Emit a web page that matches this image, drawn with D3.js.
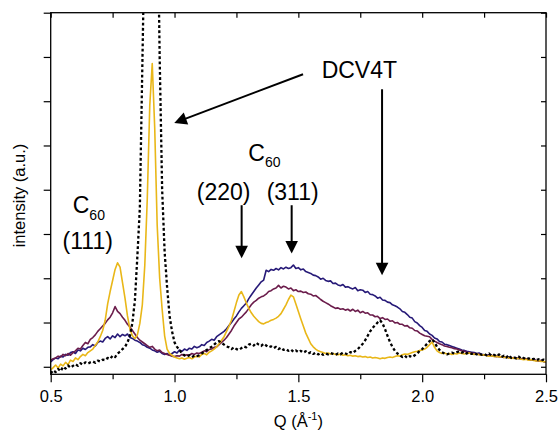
<!DOCTYPE html>
<html>
<head>
<meta charset="utf-8">
<script src="https://cdn.jsdelivr.net/npm/d3@7"></script>
<style>
  html, body { margin: 0; padding: 0; background: #fff; }
  svg { display: block; font-family: "Liberation Sans", Arial, sans-serif; }
</style>
</head>
<body>
<svg id="chart" width="559" height="432"></svg>
<script>
// Scattering vector grid (Å^-1), one sample every 0.01
const qGrid = d3.range(201).map(i => +(0.5 + i * 0.01).toFixed(2));

// Intensity profiles (a.u.), one value per grid point, rows of ten
const navyCurve = [
  0.11,0.16,0.20,0.18,0.24,0.22,0.28,0.26,0.32,0.34,
  0.30,0.38,0.36,0.42,0.39,0.44,0.45,0.50,0.47,0.55,
  0.58,0.56,0.64,0.68,0.63,0.70,0.66,0.74,0.68,0.73,
  0.70,0.74,0.66,0.64,0.60,0.58,0.55,0.50,0.48,0.44,
  0.42,0.38,0.36,0.33,0.35,0.30,0.28,0.30,0.26,0.30,
  0.34,0.31,0.38,0.35,0.40,0.37,0.42,0.40,0.46,0.43,
  0.45,0.50,0.48,0.55,0.58,0.62,0.60,0.68,0.72,0.76,
  0.80,0.86,0.93,1.00,1.08,1.15,1.24,1.32,1.38,1.44,
  1.54,1.62,1.70,1.78,1.85,1.92,1.96,2.18,2.15,2.20,
  2.18,2.22,2.19,2.24,2.21,2.25,2.22,2.24,2.30,2.22,
  2.24,2.19,2.21,2.15,2.13,2.11,2.07,2.06,2.03,1.98,
  2.00,1.95,1.93,1.94,1.88,1.89,1.85,1.83,1.86,1.80,
  1.81,1.78,1.76,1.79,1.72,1.74,1.73,1.68,1.70,1.64,
  1.63,1.60,1.55,1.57,1.51,1.50,1.46,1.45,1.40,1.38,
  1.35,1.31,1.25,1.23,1.18,1.12,1.10,1.02,0.99,0.93,
  0.89,0.82,0.80,0.74,0.71,0.65,0.63,0.57,0.56,0.51,
  0.50,0.48,0.46,0.44,0.42,0.40,0.38,0.37,0.35,0.34,
  0.33,0.32,0.30,0.31,0.28,0.27,0.26,0.27,0.25,0.24,
  0.25,0.23,0.22,0.23,0.21,0.22,0.20,0.21,0.19,0.19,
  0.18,0.17,0.18,0.16,0.15,0.16,0.14,0.13,0.14,0.12,
  0.11
];

const maroonCurve = [
  0.15,0.18,0.20,0.24,0.22,0.28,0.25,0.30,0.26,0.32,
  0.36,0.42,0.40,0.48,0.55,0.52,0.62,0.66,0.72,0.80,
  0.86,0.92,0.98,1.06,1.12,1.22,1.36,1.25,1.20,1.12,
  1.05,0.96,0.90,0.82,0.74,0.66,0.60,0.56,0.52,0.48,
  0.44,0.46,0.40,0.36,0.38,0.32,0.30,0.28,0.26,0.24,
  0.23,0.25,0.24,0.28,0.25,0.27,0.26,0.30,0.28,0.31,
  0.30,0.33,0.36,0.34,0.39,0.40,0.44,0.45,0.50,0.55,
  0.60,0.66,0.74,0.82,0.92,1.00,1.08,1.12,1.18,1.24,
  1.32,1.40,1.46,1.50,1.55,1.58,1.60,1.64,1.70,1.72,
  1.76,1.78,1.84,1.78,1.82,1.80,1.76,1.78,1.72,1.74,
  1.70,1.71,1.68,1.69,1.65,1.64,1.60,1.61,1.57,1.52,
  1.48,1.45,1.42,1.38,1.35,1.32,1.33,1.30,1.31,1.28,
  1.30,1.26,1.30,1.25,1.28,1.22,1.25,1.21,1.22,1.17,
  1.17,1.13,1.14,1.09,1.11,1.07,1.08,1.03,1.04,0.99,
  1.00,0.96,0.96,0.92,0.93,0.88,0.87,0.82,0.81,0.76,
  0.73,0.70,0.69,0.68,0.62,0.58,0.55,0.52,0.50,0.47,
  0.46,0.44,0.43,0.41,0.40,0.38,0.36,0.35,0.33,0.32,
  0.31,0.30,0.29,0.28,0.27,0.27,0.26,0.25,0.26,0.24,
  0.23,0.24,0.22,0.21,0.22,0.20,0.21,0.19,0.20,0.19,
  0.18,0.17,0.18,0.16,0.15,0.16,0.14,0.13,0.14,0.12,
  0.11
];

const goldCurve = [
  -0.07,-0.02,0.04,-0.03,0.06,0.02,0.10,0.05,0.15,0.12,
  0.20,0.16,0.23,0.28,0.25,0.32,0.36,0.40,0.48,0.56,
  0.68,0.82,1.05,1.42,1.70,1.95,2.20,2.35,2.25,1.90,
  1.55,1.15,0.85,0.70,0.64,0.72,0.98,1.40,2.30,3.80,
  5.90,6.85,5.40,3.20,2.00,1.30,0.70,0.40,0.30,0.26,
  0.22,0.20,0.18,0.20,0.17,0.19,0.21,0.18,0.22,0.24,
  0.22,0.28,0.30,0.27,0.33,0.36,0.40,0.45,0.52,0.60,
  0.68,0.80,0.92,1.05,1.25,1.45,1.62,1.70,1.58,1.44,
  1.32,1.22,1.14,1.08,1.02,0.98,0.97,1.00,1.02,1.05,
  1.07,1.10,1.14,1.20,1.30,1.40,1.52,1.62,1.58,1.42,
  1.25,1.08,0.92,0.76,0.64,0.52,0.45,0.40,0.36,0.34,
  0.32,0.30,0.31,0.29,0.30,0.28,0.27,0.29,0.26,0.27,
  0.25,0.26,0.24,0.25,0.23,0.24,0.22,0.23,0.21,0.22,
  0.20,0.21,0.20,0.18,0.20,0.19,0.21,0.22,0.21,0.23,
  0.25,0.24,0.27,0.29,0.28,0.30,0.32,0.34,0.35,0.37,
  0.38,0.40,0.44,0.50,0.56,0.44,0.36,0.32,0.30,0.31,
  0.29,0.30,0.28,0.30,0.29,0.31,0.30,0.29,0.30,0.31,
  0.29,0.28,0.29,0.27,0.26,0.27,0.25,0.24,0.25,0.23,
  0.24,0.22,0.23,0.21,0.22,0.20,0.19,0.20,0.18,0.19,
  0.17,0.16,0.17,0.15,0.16,0.14,0.13,0.14,0.12,0.12,
  0.11
];

// Pure DCV4T film (dotted)
const dcv4tCurve = [
  -0.15,-0.08,-0.12,-0.05,-0.10,0.00,-0.04,0.03,-0.02,0.02,
  0.06,0.02,0.08,0.05,0.10,0.07,0.10,0.12,0.09,0.14,
  0.12,0.16,0.15,0.20,0.18,0.25,0.22,0.30,0.34,0.40,
  0.45,0.55,0.70,1.00,1.50,2.50,3.60,6.80,10.0,12.5,
  13.5,13.5,12.5,11.0,7.00,4.00,2.60,1.80,1.15,0.80,
  0.55,0.45,0.38,0.30,0.26,0.23,0.26,0.22,0.25,0.24,
  0.26,0.30,0.34,0.38,0.42,0.45,0.50,0.55,0.58,0.54,
  0.50,0.46,0.44,0.40,0.44,0.40,0.38,0.42,0.46,0.44,
  0.50,0.52,0.48,0.54,0.50,0.47,0.52,0.48,0.44,0.46,
  0.42,0.45,0.40,0.43,0.38,0.40,0.36,0.39,0.34,0.37,
  0.33,0.36,0.32,0.35,0.30,0.33,0.29,0.32,0.28,0.31,
  0.27,0.30,0.28,0.31,0.29,0.27,0.30,0.28,0.32,0.30,
  0.28,0.33,0.31,0.36,0.40,0.46,0.52,0.60,0.70,0.80,
  0.88,0.94,1.00,1.05,0.98,0.85,0.70,0.56,0.45,0.36,
  0.30,0.26,0.22,0.25,0.20,0.24,0.22,0.26,0.30,0.36,
  0.40,0.46,0.52,0.58,0.62,0.55,0.45,0.38,0.33,0.30,
  0.28,0.30,0.32,0.30,0.33,0.35,0.32,0.34,0.30,0.32,
  0.29,0.31,0.28,0.30,0.27,0.29,0.26,0.30,0.25,0.27,
  0.24,0.28,0.22,0.25,0.21,0.26,0.20,0.22,0.19,0.23,
  0.18,0.20,0.17,0.19,0.16,0.18,0.15,0.17,0.14,0.16,
  0.14
];

// Axis ticks
const xMajorTicks = [0.5, 1.0, 1.5, 2.0, 2.5];
const xMinorTicks = [0.75, 1.25, 1.75, 2.25];
const yTicks = [0, 1, 2, 3, 4, 5, 6, 7, 8];

const series = [
  { values: navyCurve,   color: "#271a78", dash: null },
  { values: maroonCurve, color: "#6b1c4b", dash: null },
  { values: goldCurve,   color: "#e9b718", dash: null },
  { values: dcv4tCurve,  color: "#000000", dash: "2.8,2.4" }
];

const plot = { left: 50.7, right: 546, top: 12.7, bottom: 374.3 };
const x = d3.scaleLinear().domain([0.5, 2.5]).range([plot.left, plot.right]);
const y = d3.scaleLinear().domain([-0.17, 8]).range([plot.bottom, plot.top]);

const svg = d3.select("#chart");

// clip region for the curves
svg.append("defs").append("clipPath").attr("id", "plotClip")
  .append("rect")
  .attr("x", plot.left).attr("y", plot.top)
  .attr("width", plot.right - plot.left).attr("height", plot.bottom - plot.top);

const line = d3.line()
  .x((d, i) => x(qGrid[i]))
  .y(d => y(d));

const curves = svg.append("g").attr("clip-path", "url(#plotClip)");
series.forEach(s => {
  curves.append("path")
    .datum(s.values)
    .attr("fill", "none")
    .attr("stroke", s.color)
    .attr("stroke-width", s.dash ? 2.3 : 1.6)
    .attr("stroke-dasharray", s.dash)
    .attr("stroke-linejoin", "round")
    .attr("d", line);
});

// axes
function styleAxis(g) {
  g.select(".domain").remove();
  g.selectAll(".tick line").attr("stroke", "#000").attr("stroke-width", 1.2);
  g.selectAll(".tick text").attr("fill", "#000").attr("font-size", "16.5px")
    .attr("font-family", "'Liberation Sans', Arial, sans-serif");
}

svg.append("g").attr("transform", `translate(0,${plot.bottom})`)
  .call(d3.axisBottom(x).tickValues(xMajorTicks).tickSize(8).tickPadding(7.5)
    .tickFormat(d3.format(".1f")))
  .call(styleAxis);

svg.append("g").attr("transform", `translate(0,${plot.bottom})`)
  .call(d3.axisBottom(x).tickValues(xMinorTicks).tickSize(5).tickFormat(""))
  .call(styleAxis);

svg.append("g").attr("transform", `translate(0,${plot.top})`)
  .call(d3.axisTop(x).tickValues(xMajorTicks.concat(xMinorTicks)).tickSize(-5).tickFormat(""))
  .call(styleAxis);

svg.append("g").attr("transform", `translate(${plot.left},0)`)
  .call(d3.axisLeft(y).tickValues(yTicks).tickSize(7).tickFormat(""))
  .call(styleAxis);

svg.append("g").attr("transform", `translate(${plot.right},0)`)
  .call(d3.axisRight(y).tickValues(yTicks).tickSize(-5).tickFormat(""))
  .call(styleAxis);

// frame
svg.append("rect")
  .attr("x", plot.left).attr("y", plot.top)
  .attr("width", plot.right - plot.left).attr("height", plot.bottom - plot.top)
  .attr("fill", "none").attr("stroke", "#000").attr("stroke-width", 1.3);

// axis titles
const xTitle = svg.append("text")
  .attr("x", (plot.left + plot.right) / 2).attr("y", 427)
  .attr("text-anchor", "middle").attr("font-size", "16.5px").attr("fill", "#000");
xTitle.append("tspan").text("Q (Å");
xTitle.append("tspan").attr("font-size", "11px").attr("dy", -7).text("-1");
xTitle.append("tspan").attr("dy", 7).text(")");

svg.append("text")
  .attr("transform", `translate(25,${(plot.top + plot.bottom) / 2 + 2}) rotate(-90)`)
  .attr("text-anchor", "middle").attr("font-size", "16.5px").attr("fill", "#000")
  .text("intensity (a.u.)");

// annotations (positions in Q / intensity units)
const ann = svg.append("g").attr("fill", "#000");

function label(q, v, txt) {
  return ann.append("text").attr("x", x(q)).attr("y", y(v))
    .attr("font-size", "23px").text(txt);
}
function c60(q, v, drop) {
  const t = ann.append("text").attr("x", x(q)).attr("y", y(v)).attr("font-size", "23px");
  t.append("tspan").text("C");
  t.append("tspan").attr("font-size", "14px").attr("dy", drop).text("60");
}
function arrow(q1, v1, q2, v2) {
  const x1 = x(q1), y1 = y(v1), x2 = x(q2), y2 = y(v2);
  const len = Math.hypot(x2 - x1, y2 - y1);
  const ux = (x2 - x1) / len, uy = (y2 - y1) / len;
  const head = 12.5, half = 6.3;
  const bx = x2 - ux * head, by = y2 - uy * head;
  ann.append("line")
    .attr("x1", x1).attr("y1", y1).attr("x2", bx + ux * 1).attr("y2", by + uy * 1)
    .attr("stroke", "#000").attr("stroke-width", 2);
  ann.append("path")
    .attr("d", `M${x2},${y2}L${bx - uy * half},${by + ux * half}L${bx + uy * half},${by - ux * half}Z`)
    .attr("fill", "#000");
}

label(1.594, 6.52, "DCV4T");
arrow(1.519, 6.61, 0.999, 5.51);
arrow(1.838, 6.27, 1.838, 2.07);

c60(1.298, 4.65, 6);
label(1.090, 3.77, "(220)");
label(1.372, 3.77, "(311)");
arrow(1.271, 3.65, 1.271, 2.45);
arrow(1.473, 3.65, 1.473, 2.56);

c60(0.589, 3.47, 7);
label(0.548, 2.67, "(111)");
</script>
</body>
</html>
